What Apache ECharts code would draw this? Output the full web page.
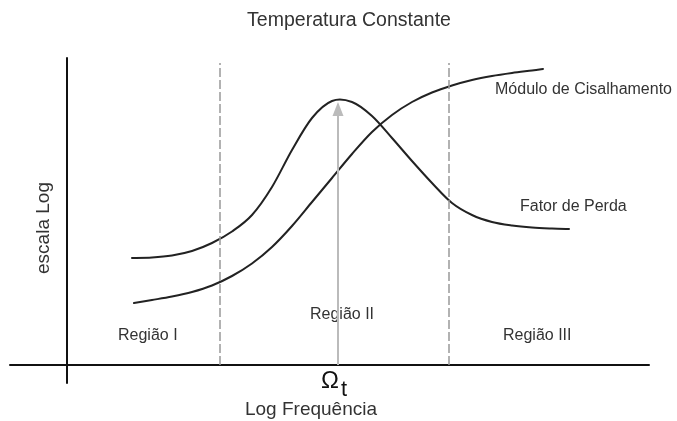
<!DOCTYPE html>
<html>
<head>
<meta charset="utf-8">
<script src="https://cdn.jsdelivr.net/npm/echarts@6/dist/echarts.min.js"></script>
<style>
  html, body { margin: 0; padding: 0; background: #fff; }
  #chart { width: 677px; height: 421px; }
</style>
</head>
<body>
<div id="chart"></div>
<script>
// Log-frequency positions (arbitrary units) and log-scale responses
const fatorX = [6.5, 8.5, 10.5, 12.5, 14.5, 16.5, 18.5, 20.5, 22.5, 24.5, 26.5, 28.5, 30.5, 32.5, 34.5, 36.5, 38.5, 40.5, 42.5, 44.5, 46.5, 48.5, 50.2];
const fatorY = [10.7, 10.75, 10.95, 11.4, 12.2, 13.35, 15.0, 17.8, 21.5, 24.7, 26.4, 26.3, 24.9, 22.7, 20.4, 18.2, 16.2, 15.0, 14.3, 13.95, 13.75, 13.65, 13.6];

const moduloX = [6.7, 8.5, 10.5, 12.5, 14.5, 16.5, 18.5, 20.5, 22.5, 24.5, 26.5, 28.5, 30.5, 32.5, 34.5, 36.5, 38.5, 40.5, 42.5, 44.5, 46.5, 47.6];
const moduloY = [6.2, 6.5, 6.85, 7.3, 7.95, 8.9, 10.15, 11.8, 13.9, 16.3, 18.7, 21.1, 23.3, 25.0, 26.3, 27.25, 27.95, 28.5, 28.9, 29.2, 29.45, 29.6];

// Region boundaries and the transition frequency
const regionBounds = [15.3, 38.2];
const boundTop = 30.2;
const omegaT = 27.1;
const omegaTop = 25.6;

// Texts
const titleText = 'Temperatura Constante';
const xName = 'Log Frequência';
const yName = 'escala Log';
const curveNames = ['Fator de Perda', 'Módulo de Cisalhamento'];
const regionNames = ['Região I', 'Região II', 'Região III'];

const pair = (xs, ys) => xs.map((x, i) => [x, ys[i]]);
const font = 'Liberation Sans, Arial, Helvetica, sans-serif';
const txt = '#333';

// Smooth curve through all points of a series (Catmull-Rom drawn as cubic Béziers),
// positioned with the grid's own coordinate conversion.
function curveRenderer(xs, ys) {
  return function (params, api) {
    if (params.dataIndex !== 0) return null;
    const p = xs.map((x, i) => api.coord([x, ys[i]]));
    let d = 'M' + p[0][0] + ' ' + p[0][1];
    for (let i = 0; i < p.length - 1; i++) {
      const p0 = p[Math.max(i - 1, 0)], p1 = p[i], p2 = p[i + 1], p3 = p[Math.min(i + 2, p.length - 1)];
      const c1 = [p1[0] + (p2[0] - p0[0]) / 6, p1[1] + (p2[1] - p0[1]) / 6];
      const c2 = [p2[0] - (p3[0] - p1[0]) / 6, p2[1] - (p3[1] - p1[1]) / 6];
      d += ' C' + c1[0] + ' ' + c1[1] + ' ' + c2[0] + ' ' + c2[1] + ' ' + p2[0] + ' ' + p2[1];
    }
    return {
      type: 'path',
      shape: { pathData: d },
      style: { stroke: '#222', lineWidth: 2, fill: null, lineJoin: 'round', lineCap: 'round' }
    };
  };
}

const chart = echarts.init(document.getElementById('chart'), null, { renderer: 'canvas' });

chart.setOption({
  backgroundColor: '#fff',
  animation: false,
  grid: { left: 10, right: 28, top: 58, bottom: 38 },
  xAxis: {
    type: 'value', min: -5.7, max: 58.2,
    axisLine: { show: true, onZero: true, lineStyle: { color: '#111', width: 2 } },
    axisTick: { show: false }, axisLabel: { show: false }, splitLine: { show: false }
  },
  yAxis: {
    type: 'value', min: -1.8, max: 30.7,
    axisLine: { show: true, onZero: true, lineStyle: { color: '#111', width: 2 } },
    axisTick: { show: false }, axisLabel: { show: false }, splitLine: { show: false }
  },
  series: [
    {
      name: curveNames[0], type: 'custom', data: pair(fatorX, fatorY),
      renderItem: curveRenderer(fatorX, fatorY), clip: false, z: 3
    },
    {
      name: curveNames[1], type: 'custom', data: pair(moduloX, moduloY),
      renderItem: curveRenderer(moduloX, moduloY), clip: false, z: 3
    },
    {
      // region boundaries and the Ω_t arrow
      type: 'line', data: [], symbol: 'none', z: 2,
      markLine: {
        silent: true, animation: false,
        label: { show: false },
        data: [
          [{ coord: [regionBounds[0], 0], symbol: 'none' }, { coord: [regionBounds[0], boundTop], symbol: 'none' }],
          [{ coord: [regionBounds[1], 0], symbol: 'none' }, { coord: [regionBounds[1], boundTop], symbol: 'none' }],
          [
            { coord: [omegaT, 0], symbol: 'none', lineStyle: { color: '#bbb', width: 2, type: 'solid' } },
            { coord: [omegaT, omegaTop], symbol: 'triangle', symbolSize: [11, 14] }
          ]
        ],
        lineStyle: { color: '#999', width: 1.5, type: [9, 3] },
        itemStyle: { color: '#bbb' }
      }
    }
  ],
  graphic: [
    { type: 'text', x: 349, y: 21, style: { text: titleText, font: '19.5px ' + font, fill: txt, align: 'center', verticalAlign: 'middle' } },
    { type: 'text', x: 495, y: 90, style: { text: curveNames[1], font: '16px ' + font, fill: txt, align: 'left', verticalAlign: 'middle' } },
    { type: 'text', x: 520, y: 207, style: { text: curveNames[0], font: '16px ' + font, fill: txt, align: 'left', verticalAlign: 'middle' } },
    { type: 'text', x: 118, y: 336, style: { text: regionNames[0], font: '16px ' + font, fill: txt, align: 'left', verticalAlign: 'middle' } },
    { type: 'text', x: 310, y: 315, style: { text: regionNames[1], font: '16px ' + font, fill: txt, align: 'left', verticalAlign: 'middle' } },
    { type: 'text', x: 503, y: 336, style: { text: regionNames[2], font: '16px ' + font, fill: txt, align: 'left', verticalAlign: 'middle' } },
    { type: 'text', x: 330, y: 381, style: { text: 'Ω', font: '24px ' + font, fill: '#111', align: 'center', verticalAlign: 'middle' } },
    { type: 'text', x: 344, y: 390, style: { text: 't', font: '22px ' + font, fill: '#111', align: 'center', verticalAlign: 'middle' } },
    { type: 'text', x: 311, y: 410, style: { text: xName, font: '19px ' + font, fill: txt, align: 'center', verticalAlign: 'middle' } },
    { type: 'text', x: 44, y: 228, rotation: Math.PI / 2, style: { text: yName, font: '19px ' + font, fill: txt, align: 'center', verticalAlign: 'middle' } }
  ]
});
</script>
</body>
</html>
